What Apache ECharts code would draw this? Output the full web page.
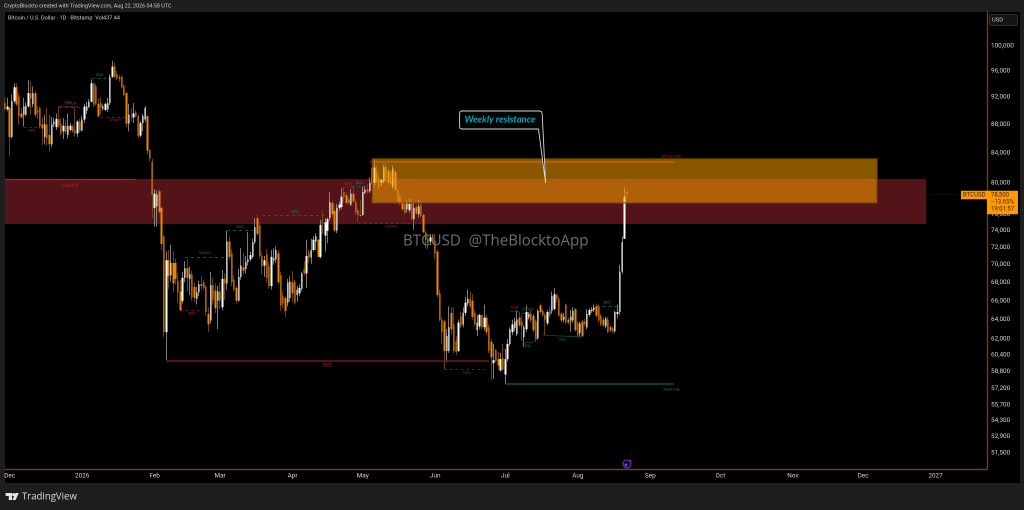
<!DOCTYPE html>
<html><head><meta charset="utf-8">
<style>html,body{margin:0;padding:0;background:#1e1e1e;overflow:hidden}#c{width:1024px;height:510px}</style>
<script src="https://cdn.jsdelivr.net/npm/echarts@6/dist/echarts.min.js"></script>
</head><body><div id="c"></div>
<script>
// Daily candles, first row is 2025-11-29: open, high, low, close (USD)
const candleRows = [
[91100,91900,90000,90200],[90200,91900,89900,90600],[90400,90600,83500,86200],[86200,92400,86000,91400],[91400,94100,91100,93500],[93500,94100,90700,90900],[92100,92600,88000,89200],[89600,90400,88900,89000],[89400,91900,87700,90600],[89400,91200,89200,90700],
[90600,94600,90500,92600],[92600,94400,89400,91800],[91000,93600,90500,92600],[92600,93000,89000,89400],[90000,90600,88800,89700],[90400,90600,87400,87700],[88000,89000,85100,87400],[86200,89400,85200,88000],[88000,90400,85000,86000],[86500,89400,84200,85200],
[85200,89100,84800,88000],[88000,89000,87600,88400],[87600,89600,87200,88800],[88700,90500,87500,87900],[88000,88900,86400,86700],[87000,88900,85900,87800],[87800,88600,86600,86900],[86500,89600,86000,87800],[87200,88200,87000,87800],[87700,88000,86800,87000],
[87200,90400,86300,86700],[86700,88600,86200,88400],[88400,88800,86800,87100],[87100,89200,87000,88700],[88700,91000,88200,90600],[90000,91300,89500,90600],[90500,91700,90400,91300],[91300,94700,91200,94100],[94000,94300,90500,90900],[93600,94000,90700,91000],
[91000,91800,89000,89200],[91100,92000,89500,90500],[90300,90900,90000,90600],[90100,91200,89900,91000],[90200,91900,89800,91100],[91100,95500,90800,95100],[95100,97600,94900,96700],[96700,97300,94800,95100],[95500,96000,94600,94900],[95000,95400,94300,94800],
[95100,95300,93300,93500],[93700,93900,92100,92300],[92600,92800,87600,88100],[88100,91000,87000,89400],[89400,90400,88400,89300],[89000,91100,88200,89600],[89700,90000,89000,89200],[89200,89400,86000,86300],[86400,88500,86200,88200],[88200,89500,87000,89200],
[88700,90700,88400,90400],[89200,89400,83800,84300],[84400,84500,82800,83200],[82800,83200,75500,78400],[76800,79200,74500,78600],[77000,79000,74500,78500],[78900,79200,76000,76300],[76800,77000,71700,72400],[73300,73400,62200,62700],[62700,71500,59900,70500],
[70500,71700,67300,68700],[68800,72300,68100,70200],[70200,71600,66900,67900],[70200,70700,67800,68400],[68200,69000,65700,66900],[67000,68300,64900,65000],[66000,69200,65700,68500],[68500,70400,68000,69600],[69600,70600,67000,68500],[68400,69800,66600,68900],
[68900,69300,66000,66400],[67500,68000,65900,66300],[66200,67500,65600,66900],[66900,68200,66500,67800],[67800,68700,67200,67600],[68000,68300,67200,67400],[67500,67700,64400,64800],[64600,65300,62700,63500],[63900,69200,63600,67700],[67700,68500,65600,66100],
[67100,67900,64700,65200],[66000,67600,63000,67000],[67000,68000,65100,66000],[65300,69400,65000,68400],[68400,69000,66100,67900],[67900,74000,67200,72700],[72700,73300,70600,70900],[71300,71800,67600,68000],[68300,68800,67000,67200],[67400,67600,65700,66000],
[66000,69500,65900,68600],[68600,71900,68300,69900],[69700,71300,68900,69300],[69500,71000,69000,70300],[70300,73800,69900,70600],[70600,71500,70400,71100],[70900,73000,70700,72600],[72600,75500,72400,74400],[75500,76000,73400,73600],[74600,75000,70700,71000],
[71000,71400,68900,69800],[69900,71000,68600,70500],[71200,71800,68000,68500],[69800,70300,67300,67600],[67600,71700,67200,70900],[70500,71900,70000,70700],[70600,72100,70200,71700],[71300,71700,67800,68000],[68800,69200,64900,65500],[66500,67000,65200,65700],
[66300,66500,64300,64900],[65800,68400,65400,68000],[66300,68700,65900,68100],[68000,69300,65900,66800],[68100,68300,65600,65800],[66600,67600,65900,67200],[66800,67800,66500,67400],[67300,69200,67000,69000],[69500,70400,68800,69000],[69000,72900,67400,71000],
[71400,71800,70200,70800],[70800,73000,70100,71700],[71700,73300,71500,72900],[72700,73700,71700,73300],[72900,73000,70800,70900],[70900,75300,70700,74700],[75000,76400,73600,74900],[73400,75500,71500,75000],[74000,75600,72500,75400],[75500,78800,75200,77500],
[77400,77700,75600,76000],[76400,76600,73800,74000],[74000,77300,73700,76800],[76800,77600,76400,77200],[76900,79300,76600,78200],[78800,79500,77500,78200],[78400,78800,77200,77400],[77900,78200,77200,77400],[77200,79200,77000,78600],[78600,79400,77400,77600],
[77600,77900,75900,76200],[76500,76800,75100,75900],[75900,77800,75700,75800],[75900,79500,75800,78800],[78700,79600,78500,79100],[79100,79800,78500,78900],[78900,80700,78700,80000],[80000,82000,79800,80500],[80000,83000,79500,82000],[81500,82200,79900,80100],
[80500,81000,79100,79400],[80000,80500,79600,80400],[80200,82400,79900,82100],[82100,82500,80100,80300],[81600,81800,79800,80000],[81400,81600,79600,79800],[79500,82300,79200,81900],[81400,81700,78900,79100],[79100,79300,77300,77600],[78300,78700,77100,77300],
[77400,77600,76400,76600],[77400,77500,75900,76200],[76600,77700,76200,77500],[76500,78000,76200,77300],[77400,77900,75200,75400],[75400,77500,74100,76800],[76900,77200,75900,76100],[76000,77800,75600,77000],[77200,77800,75600,75800],[75900,76100,73700,73800],
[73800,74000,71900,72900],[73000,73300,71800,72500],[72700,73600,72300,73200],[73300,73600,72400,72500],[72800,73600,70600,71300],[71500,71700,66400,66600],[66800,67200,63800,64000],[64000,64200,61500,62700],[63800,64000,59000,60800],[60800,63000,59700,62300],
[60800,65400,60600,63200],[64700,65300,62500,63000],[63500,65300,60600,60800],[61800,62300,60400,60700],[60800,64000,60700,63700],[64300,64800,63100,63300],[63500,65300,63200,64700],[64700,66400,64400,65800],[65700,67200,65400,66200],[66200,67000,65200,65400],
[66000,66700,64000,64300],[64700,65000,63300,63500],[62900,64500,62300,63700],[63300,64600,63000,64500],[64500,64500,63000,63200],[63200,65600,62900,64200],[64200,64500,62400,62700],[63200,63500,60600,60800],[61700,62000,58000,60200],[59600,61500,58100,59900],
[60900,61000,59700,59800],[60000,60700,59000,59400],[58900,60600,58800,60000],[60100,61500,58900,59000],[58500,61000,57600,60000],[60000,62000,59800,61500],[61500,63200,61300,63000],[62700,64000,62400,63500],[63100,64200,62800,63800],[62500,65000,62300,64000],
[64200,64800,63200,63400],[63800,64400,61800,63300],[62200,63400,61200,63200],[63000,65500,62700,64800],[64200,64800,64000,64600],[64600,65000,63700,63900],[64400,64600,62700,62900],[63800,64000,61700,62000],[62100,65100,61900,64900],[65500,65700,64600,64800],
[64900,65100,64300,64500],[64500,64700,62400,64000],[63600,65000,63400,64800],[64900,65400,64200,64500],[64900,67000,64600,66500],[65100,67400,65000,66700],[66600,66800,65800,66200],[66200,66400,64300,64400],[64600,64800,63700,63900],[64000,64700,63700,64300],
[65600,65700,63500,63700],[64000,64200,63500,63700],[63900,65000,62700,64300],[63900,65300,63700,64900],[65100,65200,62800,62900],[63600,63800,62200,62400],[62600,63800,62200,63600],[63800,64000,62200,62300],[63800,64100,63300,63500],[63200,65100,63000,64600],
[64500,65200,64300,65000],[64900,65300,64700,65100],[65000,65600,64800,65300],[65400,65700,64200,64400],[65400,65600,63700,63900],[64400,64600,63300,63500],[64000,64200,63200,63400],[63300,64300,63100,64100],[64000,64300,62600,62700],[63200,63400,62700,62900],
[63100,63300,62600,62800],[62800,64900,62600,64800],[64600,65600,64100,64800],[64800,70000,64500,69200],[69200,73300,69000,72600],[73000,79400,73000,78200],[78800,79100,77600,78500]
];
const firstDate = '2025-11-29';
const lastAxisDate = '2027-01-23';
const priceTicks = [100000,96000,92000,88000,84000,80000,76000,74000,72000,70000,68000,66000,64000,62000,60400,58800,57200,55700,54300,52900,51500];
const monthTicks = {'2025-12-01':'Dec','2026-01-01':'2026','2026-02-01':'Feb','2026-03-01':'Mar','2026-04-01':'Apr','2026-05-01':'May','2026-06-01':'Jun','2026-07-01':'Jul','2026-08-01':'Aug','2026-09-01':'Sep','2026-10-01':'Oct','2026-11-01':'Nov','2026-12-01':'Dec','2027-01-01':'2027'};
const priceMin = 50157, priceMax = 105703;
const lastPrice = 78500;
// Zones: from date, to date, top price, bottom price
const redZone = ['2025-11-29','2026-12-28',80500,74800];
const orangeZone = ['2026-05-05','2026-12-07',83200,77400];
// Structure levels: from, to, price at from, price at to, kind, text, label side
const levels = [
['2026-01-05','2026-01-12',94800,94800,'bull','BOS','top'],
['2025-12-07','2025-12-14',87600,87600,'bear','BOS','bottom'],
['2025-12-22','2026-01-01',90500,90500,'bull','CHoCH','top'],
['2025-12-22','2025-12-30',90700,90700,'bearSolid','EQH','top'],
['2026-01-09','2026-01-21',89100,89100,'bear','CHoCH','bottom'],
['2026-02-14','2026-03-03',70900,70900,'bull','CHoCH','top'],
['2026-02-12','2026-02-22',65000,65000,'bear','BOS','bottom'],
['2026-03-04','2026-03-15',74000,74000,'bull','BOS','top'],
['2026-02-06','2026-06-24',59800,59800,'bearLong','BOS','bottom'],
['2026-03-19','2026-04-16',75900,75900,'bull','BOS','top'],
['2026-04-29','2026-05-27',74900,74900,'bear','CHoCH','bottom'],
['2026-04-26','2026-05-03',79500,79500,'bull','BOS','top'],
['2026-04-22','2026-04-28',79400,79400,'bearSolid','EQH','top'],
['2026-06-05','2026-06-24',59000,59000,'bear','BOS','bottom'],
['2026-07-01','2026-09-11',57600,57600,'bullSolid','','bottom'],
['2026-07-08','2026-07-13',64700,64700,'bull','CHoCH','top'],
['2026-07-03','2026-07-07',64900,64900,'bearSolid','EQH','top'],
['2026-07-08','2026-07-13',61600,61700,'bullThin','EQL','bottom'],
['2026-07-17','2026-08-03',62400,62200,'bullThin','EQL','bottom'],
['2026-08-09','2026-08-18',65400,65400,'bull','BOS','top'],
['2026-05-04','2026-09-11',82800,82800,'bearLong','','top'],
['2025-11-29','2026-01-24',80400,80400,'bearZone','CHoCH','bottom']
];
// Free-standing small labels: date, price, kind, text
const endLabels = [
['2026-09-10',57100,'bull','Weak Low'],
['2026-09-10',83500,'bear','Strong High']
];

const DPR = 2;
const chart = echarts.init(document.getElementById('c'), null, {devicePixelRatio: DPR, renderer:'canvas'});

function iso(d){return d.toISOString().slice(0,10);}
const categories = [];
for (let d = new Date(firstDate+'T00:00:00Z'); iso(d) <= lastAxisDate; d = new Date(d.getTime()+86400000)) categories.push(iso(d));
const candleData = candleRows.map(r => [r[0], r[3], r[2], r[1]]);

const UI = 'Roboto, "Liberation Sans", sans-serif';
const UP = '#ffffff', DOWN = '#f08400', UPW = '#8d8d8d', DOWNW = '#7d4900';
const AXIS = '#6e4406';
const levelStyle = {
  bull:{color:'#0d6a55',type:[3,3],width:.8,font:3.6},
  bullSolid:{color:'#0e4f3f',type:'solid',width:1.5,font:3.6},
  bullThin:{color:'#0e4f3f',type:'solid',width:.8,font:3.6},
  bear:{color:'#9a1f2c',type:[2.5,3],width:.8,font:3.6},
  bearSolid:{color:'#7a1a24',type:'solid',width:.7,font:3.6},
  bearLong:{color:'#7c141f',type:'solid',width:1.5,font:4.6},
  bearZone:{color:'#a02530',type:'solid',width:1.2,font:4.8}
};
const labelColor = {bull:'#14806a',bullSolid:'#14806a',bullThin:'#14806a',bear:'#b2242f',bearSolid:'#b2242f',bearLong:'#c0242f',bearZone:'#c0242f'};
const markLines = levels.map(l => {
  const s = levelStyle[l[4]];
  return [{coord:[l[0],l[2]],lineStyle:{color:s.color,type:s.type,width:s.width,opacity:1},
    label:{show:!!l[5],formatter:l[5],color:labelColor[l[4]],fontSize:s.font,fontFamily:UI,distance:l[4]==='bearZone'?3.5:1.5,
      position:l[6]==='top'?'insideMiddleTop':'insideMiddleBottom'}},
    {coord:[l[1],l[3]]}];
});
markLines.push([{coord:[categories[candleRows.length-1],lastPrice],lineStyle:{color:'#3c2600',type:[1,2],width:.8,opacity:1},label:{show:false}},{coord:['2027-01-12',lastPrice]}]);

const T = (x,y,text,size,color,extra) => ({type:'text',z:100,silent:true,x,y,style:Object.assign({text,fontSize:size,fill:color,fontFamily:UI,verticalAlign:'middle'},extra||{})});

chart.setOption({
  animation:false,
  backgroundColor:'#1e1e1e',
  grid:{left:5,right:37,top:12,bottom:41,containLabel:false},
  tooltip:{show:false},
  xAxis:{type:'category',data:categories,boundaryGap:false,
    axisLine:{show:true,lineStyle:{color:AXIS,width:1.4}},axisTick:{show:false},splitLine:{show:false},
    axisLabel:{show:true,margin:4,fontSize:6.4,color:'#d4d4d4',fontFamily:UI,hideOverlap:false,showMinLabel:true,showMaxLabel:true,
      interval:(i,v)=>monthTicks[v]!==undefined,
      formatter:v=>monthTicks[v]||''}
  },
  yAxis:{type:'log',logBase:10,position:'right',min:priceMin,max:priceMax,
    axisLine:{show:true,onZero:false,lineStyle:{color:AXIS,width:1.4}},axisTick:{show:false},splitLine:{show:false},minorTick:{show:false},
    axisLabel:{show:true,margin:4,fontSize:6.4,color:'#d4d4d4',fontFamily:UI,align:'left',showMinLabel:true,showMaxLabel:true,hideOverlap:false,
      customValues:priceTicks,
      formatter:v=>{const raw=v<1000?Math.pow(10,v):v;return (Math.round(raw/100)*100).toLocaleString('en-US');}}
  },
  series:[
    {name:'wicks',type:'candlestick',data:candleData,barWidth:0,z:2,silent:true,
      itemStyle:{color:UPW,color0:DOWNW,borderColor:UPW,borderColor0:DOWNW,borderWidth:.9},
      markArea:{silent:true,z:1,animation:false,data:[
        [{coord:[redZone[0],redZone[2]],itemStyle:{color:'rgba(242,54,69,0.35)',borderWidth:0}},{coord:[redZone[1],redZone[3]]}]
      ]},
      markLine:{silent:true,symbol:'none',animation:false,z:3,data:markLines}
    },
    {name:'BTCUSD',type:'candlestick',data:candleData,barWidth:1.9,z:4,silent:true,
      itemStyle:{color:UP,color0:DOWN,borderColor:UP,borderColor0:DOWN,borderWidth:0},
      markArea:{silent:true,z:10,animation:false,data:[
        [{coord:[orangeZone[0],orangeZone[2]],itemStyle:{color:'rgba(255,160,0,0.54)',borderColor:'#6a4300',borderWidth:1}},{coord:[orangeZone[1],orangeZone[3]]}]
      ]},
      markPoint:{silent:true,symbol:'circle',symbolSize:0,z:5,animation:false,
        data:endLabels.map(l=>({coord:[l[0],l[1]],label:{show:true,formatter:l[3],color:labelColor[l[2]],fontSize:3.6,fontFamily:UI,position:'inside'}}))}
    }
  ],
  graphic:[
    {type:'rect',z:-10,silent:true,shape:{x:5,y:12,width:1015,height:471},style:{fill:'#000'}},
    T(4,6,'CryptoBlockto created with TradingView.com, Aug 22, 2026 04:58 UTC',5.4,'#cfcfcf'),
    T(8,18,'Bitcoin / U.S. Dollar · 1D · Bitstamp  Vol437.44',5.5,'#d6d6d6'),
    T(403,241,'BTCUSD  @TheBlocktoApp',15.1,'#6e6e6e',{fontFamily:'"Open Sans", sans-serif'}),
    {type:'rect',z:100,silent:true,shape:{x:989.5,y:14.5,width:28,height:11,r:1.5},style:{fill:'#141414',stroke:'#2e2e2e',lineWidth:1}},
    T(992,20,'USD',5.8,'#cfcfcf'),
    {type:'polygon',z:100,silent:true,shape:{points:[[461.5,111],[540,111],[541.6,111.8],[542.2,114],[545.6,183],[538.5,129],[461.5,129],[460,128.2],[459.6,126.5],[459.6,113.5],[460,111.8]]},style:{fill:'#000',stroke:'#d8d8d8',lineWidth:.9}},
    T(464.5,119.5,'Weekly resistance',9.4,'#00a8bb',{fontStyle:'italic',fontWeight:700,fontFamily:'Lato, "Open Sans", sans-serif'}),
    {type:'rect',z:100,silent:true,shape:{x:961,y:190.7,width:27,height:8.5},style:{fill:'#ff9800'}},
    {type:'rect',z:100,silent:true,shape:{x:987,y:190.7,width:31,height:23.5},style:{fill:'#ff9800'}},
    T(963,195,'BTCUSD',6,'#3a2500'),
    T(991,195,'78,500',6,'#3a2500'),
    T(991,202,'−13.65%',6,'#3a2500'),
    T(991,209,'19:01:57',6,'#3a2500'),
    {type:'circle',z:100,silent:true,shape:{cx:627,cy:464,r:4},style:{fill:'#12061f',stroke:'#5d2aa8',lineWidth:1.3}},
    {type:'circle',z:100,silent:true,shape:{cx:626,cy:465,r:1.5},style:{fill:'#7a3fd0'}},
    {type:'circle',z:100,silent:true,shape:{cx:630.3,cy:460.5,r:1},style:{fill:'#d8203a'}},
    {type:'polygon',z:100,silent:true,shape:{points:[[5.6,493],[12,493],[12,500],[8.8,500],[8.8,496],[5.6,496]]},style:{fill:'#e6e6e6'}},
    {type:'circle',z:100,silent:true,shape:{cx:13.6,cy:494.6,r:1.5},style:{fill:'#e6e6e6'}},
    {type:'polygon',z:100,silent:true,shape:{points:[[15.4,493],[18.8,493],[15.6,500],[12.4,500]]},style:{fill:'#e6e6e6'}},
    T(22,497,'TradingView',9.6,'#dcdcdc',{fontFamily:'"Open Sans", sans-serif',fontWeight:500})
  ]
});
</script></body></html>
